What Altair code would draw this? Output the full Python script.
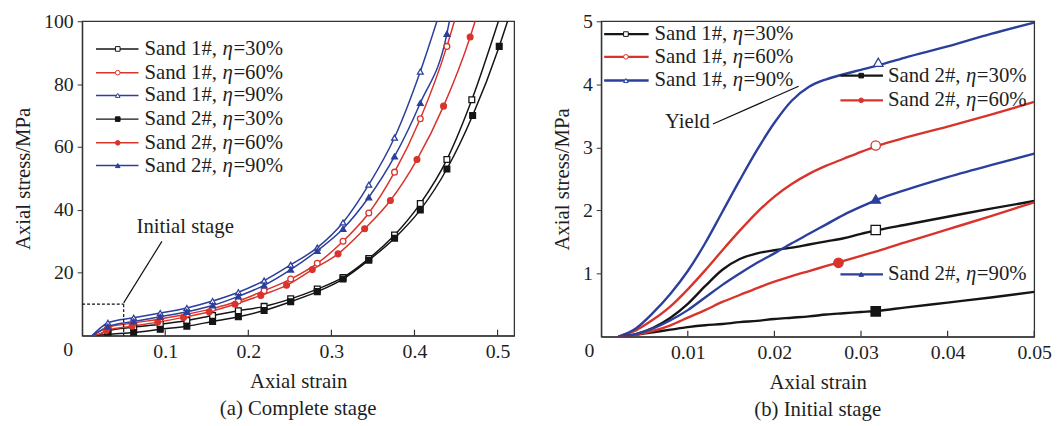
import altair as alt
import pandas as pd

FONT = "'Liberation Serif', 'Times New Roman', serif"
TXT = "#1e1e1e"

# ---------------- series definitions ----------------
KEYS = ["S1_30", "S1_60", "S1_90", "S2_30", "S2_60", "S2_90"]
PREFIX = ["Sand 1#,", "Sand 1#,", "Sand 1#,", "Sand 2#,", "Sand 2#,", "Sand 2#,"]
ETA = ["η"] * 6
SUFFIX = ["=30%", "=60%", "=90%", "=30%", "=60%", "=90%"]
COLORS = ["#151515", "#d8342c", "#2b3f9c", "#151515", "#d8342c", "#2b3f9c"]
FILLS = ["#ffffff", "#ffffff", "#ffffff", "#151515", "#d8342c", "#2b3f9c"]
SHAPES = ["square", "circle", "triangle-up", "square", "circle", "triangle-up"]

# ---------------- (a) complete stage: strain, stress, marker flag ----------------
A_S1_30_X = [0.012, 0.02, 0.031, 0.062, 0.094, 0.126, 0.157, 0.188, 0.219, 0.251, 0.283, 0.314, 0.345, 0.376, 0.407, 0.439, 0.469, 0.501]
A_S1_30_Y = [0, 0.4, 1.6, 2.7, 3.6, 4.8, 6.4, 7.9, 9.3, 11.7, 14.8, 18.5, 24.5, 32, 42, 56, 75, 100]
A_S1_30_M = [0, 0, 1, 1, 1, 1, 1, 1, 1, 1, 1, 1, 1, 1, 1, 1, 1, 0]

A_S1_60_X = [0.012, 0.02, 0.031, 0.062, 0.094, 0.126, 0.157, 0.188, 0.219, 0.251, 0.283, 0.314, 0.345, 0.376, 0.407, 0.439, 0.448]
A_S1_60_Y = [0, 1.2, 2.6, 4.0, 5.3, 6.8, 8.6, 11, 14.3, 18, 23, 30, 39, 52, 69, 92, 100]
A_S1_60_M = [0, 0, 1, 1, 1, 1, 1, 1, 1, 1, 1, 1, 1, 1, 1, 1, 0]

A_S1_90_X = [0.012, 0.02, 0.031, 0.062, 0.094, 0.126, 0.157, 0.188, 0.219, 0.251, 0.283, 0.314, 0.345, 0.376, 0.407, 0.427]
A_S1_90_Y = [0, 2.0, 4.1, 5.7, 7.2, 8.8, 11, 13.8, 17.5, 22.5, 28, 36, 48, 63, 84, 100]
A_S1_90_M = [0, 0, 1, 1, 1, 1, 1, 1, 1, 1, 1, 1, 1, 1, 1, 0]

A_S2_30_X = [0.015, 0.031, 0.062, 0.094, 0.126, 0.157, 0.188, 0.219, 0.251, 0.283, 0.314, 0.345, 0.376, 0.407, 0.439, 0.470, 0.502, 0.512]
A_S2_30_Y = [0, 0.4, 1.0, 2.0, 3.0, 4.5, 6.0, 8.0, 10.8, 14, 18, 24, 31, 40, 53, 70, 92, 100]
A_S2_30_M = [0, 1, 1, 1, 1, 1, 1, 1, 1, 1, 1, 1, 1, 1, 1, 1, 1, 0]

A_S2_60_X = [0.013, 0.022, 0.029, 0.06, 0.091, 0.122, 0.153, 0.184, 0.215, 0.246, 0.277, 0.308, 0.34, 0.371, 0.403, 0.435, 0.467, 0.473]
A_S2_60_Y = [0, 0.6, 1.6, 3.0, 4.3, 5.8, 7.6, 10, 12.8, 16, 21, 26, 34, 43, 56, 73, 95, 100]
A_S2_60_M = [0, 0, 1, 1, 1, 1, 1, 1, 1, 1, 1, 1, 1, 1, 1, 1, 1, 0]

A_S2_90_X = [0.012, 0.02, 0.031, 0.062, 0.094, 0.126, 0.157, 0.188, 0.219, 0.251, 0.283, 0.314, 0.345, 0.376, 0.407, 0.439, 0.442]
A_S2_90_Y = [0, 1.3, 2.9, 4.5, 6.0, 7.6, 9.6, 12.5, 16, 21, 27, 34, 44, 57, 74, 96, 100]
A_S2_90_M = [0, 0, 1, 1, 1, 1, 1, 1, 1, 1, 1, 1, 1, 1, 1, 1, 0]

# ---------------- (b) initial stage ----------------
B_X = [0.002, 0.004, 0.006, 0.008, 0.010, 0.012, 0.014, 0.016, 0.018, 0.020, 0.022, 0.024, 0.026, 0.028, 0.030, 0.032, 0.035, 0.040, 0.045, 0.050]
B_S1_30_Y = [0, 0.04, 0.14, 0.30, 0.52, 0.80, 1.06, 1.23, 1.32, 1.37, 1.41, 1.46, 1.51, 1.56, 1.63, 1.69, 1.77, 1.90, 2.03, 2.15]
B_S1_60_Y = [0, 0.10, 0.27, 0.48, 0.75, 1.05, 1.37, 1.68, 1.97, 2.22, 2.42, 2.58, 2.71, 2.82, 2.93, 3.03, 3.15, 3.33, 3.52, 3.72]
B_S1_90_Y = [0, 0.13, 0.38, 0.68, 1.04, 1.48, 1.98, 2.48, 2.96, 3.39, 3.74, 3.96, 4.08, 4.16, 4.23, 4.30, 4.42, 4.60, 4.80, 4.98]
B_S2_30_Y = [0, 0.03, 0.07, 0.11, 0.15, 0.18, 0.20, 0.23, 0.25, 0.28, 0.30, 0.32, 0.35, 0.37, 0.39, 0.41, 0.46, 0.54, 0.62, 0.71]
B_S2_60_Y = [0, 0.03, 0.09, 0.18, 0.30, 0.42, 0.55, 0.66, 0.77, 0.87, 0.96, 1.04, 1.12, 1.20, 1.28, 1.36, 1.49, 1.70, 1.91, 2.13]
B_S2_90_Y = [0, 0.04, 0.13, 0.26, 0.42, 0.62, 0.82, 1.00, 1.17, 1.32, 1.48, 1.63, 1.78, 1.93, 2.06, 2.18, 2.32, 2.53, 2.72, 2.90]

B_MARK_X = [0.0317, 0.0317, 0.0320, 0.0317, 0.0274, 0.0317]
B_MARK_Y = [1.69, 3.03, 4.35, 0.40, 1.17, 2.18]

A_XTICKS = [0.1, 0.2, 0.3, 0.4, 0.5]
A_YTICKS = [20, 40, 60, 80, 100]
B_XTICKS = [0.01, 0.02, 0.03, 0.04, 0.05]
B_YTICKS = [1, 2, 3, 4, 5]

# ---------------- layout (pixels) ----------------
AW, AH, AXMAX, AYMAX = 437, 318, 0.52, 100
BW, BH, BXMAX, BYMAX = 438, 319, 0.05, 5
# legend rows: (series index, row y px, line x0 px, line x1 px, marker x px, text x px)
A_LEG = [(i, y, 14, 57, 36, 63) for i, y in zip(range(6), [28, 52, 75, 99, 123, 146])]
B_LEG = [(0, 13, 3, 48, 25, 54), (1, 36, 3, 48, 25, 54), (2, 60, 3, 48, 25, 54),
         (3, 55, 242, 285, 263, 290), (4, 80, 242, 285, 263, 290), (5, 256, 242, 285, 263, 290)]

cscale = alt.Scale(domain=KEYS, range=COLORS)
fscale = alt.Scale(domain=KEYS, range=FILLS)
sscale = alt.Scale(domain=KEYS, range=SHAPES)


def legend_df(rows, W, H, xmax, ymax):
    recs = []
    for i, py, x0, x1, mx, tx in rows:
        recs.append(dict(series=KEYS[i], prefix=PREFIX[i], eta=ETA[i], suffix=SUFFIX[i],
                         x=x0 / W * xmax, x1=x1 / W * xmax, mx=mx / W * xmax, tx=tx / W * xmax,
                         y=(H - py) / H * ymax))
    return pd.DataFrame(recs)


def panel(curve_df, mark_df, leg_df, W, H, xmax, ymax, xticks, yticks, xfmt,
          msize, lw, extra, caption, origin_dx):
    xs = alt.Scale(domain=[0, xmax], nice=False, zero=False)
    ys = alt.Scale(domain=[0, ymax], nice=False, zero=False)
    xax = alt.Axis(values=xticks, format=xfmt, title="Axial strain", ticks=False,
                   labelPadding=6, labelFlush=False, titlePadding=9, grid=False)
    yax = alt.Axis(values=yticks, title="Axial stress/MPa", tickSize=5, labelPadding=4,
                   titlePadding=10, grid=False, labelFlush=False)

    def X(f):
        return alt.X(f"{f}:Q", scale=xs, axis=xax)

    def Y(f):
        return alt.Y(f"{f}:Q", scale=ys, axis=yax)

    col = alt.Color("series:N", scale=cscale, legend=None)
    fil = alt.Fill("series:N", scale=fscale, legend=None)
    shp = alt.Shape("series:N", scale=sscale, legend=None)

    lines = alt.Chart(curve_df).mark_line(strokeWidth=lw, interpolate="monotone", clip=True).encode(
        x=X("x"), y=Y("y"), color=col, detail="series:N")
    pts = alt.Chart(mark_df).mark_point(size=msize, filled=False, fillOpacity=1, opacity=1,
                                        strokeWidth=1.3, clip=True).encode(
        x=X("x"), y=Y("y"), color=col, fill=fil, shape=shp)
    lrule = alt.Chart(leg_df).mark_rule(strokeWidth=lw).encode(x=X("x"), x2="x1:Q", y=Y("y"), color=col)
    lpts = alt.Chart(leg_df).mark_point(size=22, filled=False, fillOpacity=1, opacity=1,
                                        strokeWidth=1).encode(
        x=X("mx"), y=Y("y"), color=col, fill=fil, shape=shp)
    tstyle = dict(font=FONT, fontSize=21, align="left", baseline="middle", color=TXT)
    t1 = alt.Chart(leg_df).mark_text(**tstyle).encode(x=X("tx"), y=Y("y"), text="prefix:N")
    t2 = alt.Chart(leg_df).mark_text(fontStyle="italic", dx=79, **tstyle).encode(x=X("tx"), y=Y("y"), text="eta:N")
    t3 = alt.Chart(leg_df).mark_text(dx=90, **tstyle).encode(x=X("tx"), y=Y("y"), text="suffix:N")
    ticks = alt.Chart(pd.DataFrame({"t": xticks})).mark_rule(color="#333", strokeWidth=1.2).encode(
        x=X("t"), y=alt.value(H), y2=alt.value(H - 6))
    origin = alt.Chart(pd.DataFrame({"x": [0], "y": [0], "t": ["0"]})).mark_text(
        font=FONT, fontSize=20, color=TXT, dx=origin_dx, dy=15, align="center", baseline="middle").encode(
        x=X("x"), y=Y("y"), text="t:N")
    layers = [lines, pts, lrule, lpts, t1, t2, t3, ticks, origin]
    for kind, df, style in extra:
        if kind == "rule":
            layers.append(alt.Chart(df).mark_rule(**style).encode(x=X("x"), x2="x2:Q", y=Y("y"), y2="y2:Q"))
        else:
            layers.append(alt.Chart(df).mark_text(font=FONT, fontSize=21, color=TXT, **style).encode(
                x=X("x"), y=Y("y"), text="t:N"))
    return alt.layer(*layers).properties(
        width=W, height=H,
        title=alt.TitleParams(caption, orient="bottom", frame="group", font=FONT, fontSize=21,
                              fontWeight="normal", color=TXT, offset=7))


# ---------------- build data frames ----------------
A = {"S1_30": (A_S1_30_X, A_S1_30_Y, A_S1_30_M), "S1_60": (A_S1_60_X, A_S1_60_Y, A_S1_60_M),
     "S1_90": (A_S1_90_X, A_S1_90_Y, A_S1_90_M), "S2_30": (A_S2_30_X, A_S2_30_Y, A_S2_30_M),
     "S2_60": (A_S2_60_X, A_S2_60_Y, A_S2_60_M), "S2_90": (A_S2_90_X, A_S2_90_Y, A_S2_90_M)}
a_rows = []
for k, (xs_, ys_, ms_) in A.items():
    for x, y, m in zip(xs_, ys_, ms_):
        a_rows.append(dict(series=k, x=x, y=y, m=m))
a_df = pd.DataFrame(a_rows)
a_marks = a_df[a_df.m == 1]

B = {"S1_30": B_S1_30_Y, "S1_60": B_S1_60_Y, "S1_90": B_S1_90_Y,
     "S2_30": B_S2_30_Y, "S2_60": B_S2_60_Y, "S2_90": B_S2_90_Y}
b_df = pd.DataFrame([dict(series=k, x=x, y=y) for k, ys_ in B.items() for x, y in zip(B_X, ys_)])
b_marks = pd.DataFrame({"series": KEYS, "x": B_MARK_X, "y": B_MARK_Y})

a_extra = [
    ("rule", pd.DataFrame({"x": [0, 0.05], "x2": [0.05, 0.05], "y": [10, 10], "y2": [10, 0]}),
     dict(color="#111", strokeWidth=1.2, strokeDash=[3, 2])),
    ("rule", pd.DataFrame({"x": [0.05], "x2": [0.096], "y": [10.4], "y2": [30]}),
     dict(color="#111", strokeWidth=1.2)),
    ("text", pd.DataFrame({"x": [0.124], "y": [34.5], "t": ["Initial stage"]}),
     dict(align="center", baseline="middle")),
]
b_extra = [
    ("rule", pd.DataFrame({"x": [0.0129], "x2": [0.0228], "y": [3.37], "y2": [3.97]}),
     dict(color="#111", strokeWidth=1.2)),
    ("text", pd.DataFrame({"x": [0.01256], "y": [3.4], "t": ["Yield"]}),
     dict(align="right", baseline="middle")),
]

left = panel(a_df, a_marks, legend_df(A_LEG, AW, AH, AXMAX, AYMAX), AW, AH, AXMAX, AYMAX,
             A_XTICKS, A_YTICKS, ".1f", 34, 1.5, a_extra, "(a) Complete stage", -14)
right = panel(b_df, b_marks, legend_df(B_LEG, BW, BH, BXMAX, BYMAX), BW, BH, BXMAX, BYMAX,
              B_XTICKS, B_YTICKS, ".2f", 90, 2.4, b_extra, "(b) Initial stage", -12)

chart = alt.hconcat(left, right, spacing=36).properties(
    padding={"left": 4, "top": 0, "right": 0, "bottom": 2}
).configure_view(stroke="#333", strokeWidth=1.3).configure_axis(
    labelFont=FONT, labelFontSize=20, labelColor=TXT, titleFont=FONT, titleFontSize=21,
    titleFontWeight="normal", titleColor=TXT, domainColor="#333", tickColor="#333", domainWidth=1.3
)

chart.save("out.html", embed_options={"renderer": "svg", "actions": False})
